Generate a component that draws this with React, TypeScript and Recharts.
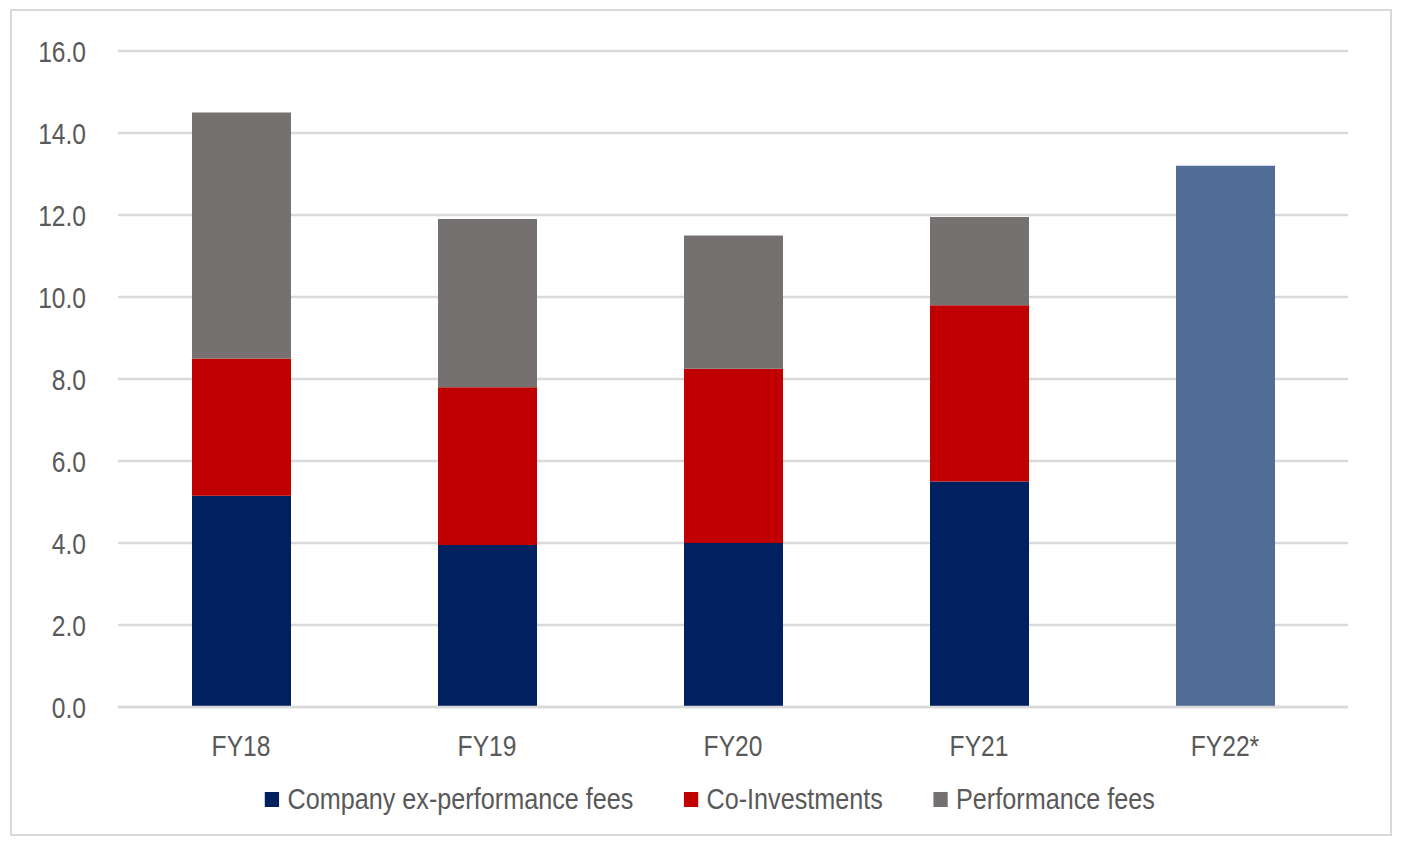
import { BarChart, Bar, XAxis, YAxis, CartesianGrid, Legend } from "recharts";

const years = ["FY18", "FY19", "FY20", "FY21", "FY22*"];
const companyExPerf = [5.15, 3.95, 4.0, 5.5, null];
const coInvestments = [3.35, 3.85, 4.25, 4.3, null];
const performanceFees = [6.0, 4.1, 3.25, 2.15, null];
const fy22Estimate = [null, null, null, null, 13.2];
const yTicks = [0, 2, 4, 6, 8, 10, 12, 14, 16];

const FONT = "'Liberation Sans', Arial, sans-serif";
const TEXT = "#595959";
const NARROW = 0.82; // fake Arial Narrow

const series = [
  { key: "company", name: "Company ex-performance fees", color: "#002060" },
  { key: "coinv", name: "Co-Investments", color: "#C00000" },
  { key: "perf", name: "Performance fees", color: "#767171" },
];

const data = years.map((y, i) => ({
  year: y,
  company: companyExPerf[i],
  coinv: coInvestments[i],
  perf: performanceFees[i],
  fy22: fy22Estimate[i],
}));

function YTick(props: any) {
  const { x, y, payload } = props;
  return (
    <text transform={`translate(${x},${y}) scale(${NARROW},1)`} textAnchor="end" dy="0.355em" fill={TEXT} fontSize={30} fontFamily={FONT}>
      {payload.value.toFixed(1)}
    </text>
  );
}

function XTick(props: any) {
  const { x, y, payload } = props;
  return (
    <text transform={`translate(${x},${y}) scale(${NARROW},1)`} textAnchor="middle" dy="0.71em" fill={TEXT} fontSize={30} fontFamily={FONT}>
      {payload.value}
    </text>
  );
}

function LegendBox() {
  return (
    <div style={{ height: 36, display: "flex", alignItems: "center", justifyContent: "center", paddingLeft: 60 }}>
      <div
        style={{
          display: "flex",
          alignItems: "center",
          gap: 60,
          fontFamily: FONT,
          fontSize: 30,
          color: TEXT,
          transform: "scaleX(0.84)",
          transformOrigin: "center",
          whiteSpace: "nowrap",
        }}
      >
        {series.map((s) => (
          <div key={s.key} style={{ display: "flex", alignItems: "center" }}>
            <span style={{ display: "inline-block", width: 17, height: 15, background: s.color, marginRight: 10 }} />
            <span>{s.name}</span>
          </div>
        ))}
      </div>
    </div>
  );
}

export default function App() {
  return (
    <div style={{ position: "absolute", left: 10, top: 9, width: 1382, height: 827, boxSizing: "border-box", border: "2px solid #d9d9d9", background: "#fff" }}>
      <BarChart width={1378} height={823} data={data} margin={{ top: 40, right: 42, left: 0, bottom: 17 }} barSize={99}>
        <CartesianGrid vertical={false} stroke="#d9d9d9" strokeWidth={2.5} />
        <XAxis
          dataKey="year"
          axisLine={{ stroke: "#d9d9d9", strokeWidth: 2.5 }}
          tickLine={false}
          tick={<XTick />}
          tickMargin={22}
          height={74}
        />
        <YAxis
          domain={[0, 16]}
          ticks={yTicks}
          axisLine={false}
          tickLine={false}
          tick={<YTick />}
          width={106}
          tickMargin={26}
        />
        <Legend verticalAlign="bottom" content={() => <LegendBox />} />
        {series.map((s) => (
          <Bar key={s.key} dataKey={s.key} name={s.name} stackId="a" fill={s.color} isAnimationActive={false} />
        ))}
        <Bar dataKey="fy22" name="FY22*" stackId="a" fill="#516C97" legendType="none" isAnimationActive={false} />
      </BarChart>
    </div>
  );
}
